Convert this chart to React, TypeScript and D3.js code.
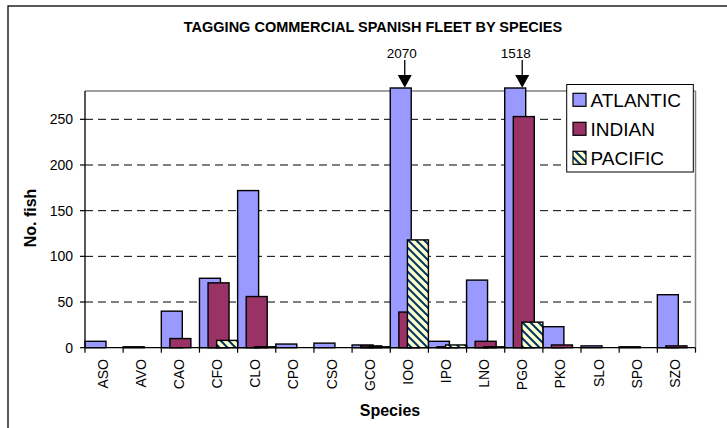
import React from "react";
import * as d3 from "d3";

const categories = ["ASO","AVO","CAO","CFO","CLO","CPO","CSO","GCO","IOO","IPO","LNO","PGO","PKO","SLO","SPO","SZO"];
const atlantic = [7, 1, 40, 76, 172, 4, 5, 3, 2070, 7, 74, 1518, 23, 2, 1, 58];
const indian   = [0, 0, 10, 71, 56, 0, 0, 2, 39, 1, 7, 253, 3, 0, 0, 2];
const pacific  = [0, 0, 0, 8, 1, 0, 0, 1, 118, 3, 1, 28, 0, 0, 0, 0];
const seriesNames = ["ATLANTIC", "INDIAN", "PACIFIC"];
const yTicks = [0, 50, 100, 150, 200, 250];
const yMax = 281;

const W = 727, H = 428;
const plot = { left: 85, right: 695.5, top: 91, bottom: 347.7 };
const FONT = "Arial, 'Liberation Sans', Helvetica, sans-serif";

export default function App() {
  const x = d3.scaleBand<string>().domain(categories).range([plot.left, plot.right]).padding(0);
  const y = d3.scaleLinear().domain([0, yMax]).range([plot.bottom, plot.top]);
  const bw = x.bandwidth();
  const barW = bw * 0.55;
  const step = (bw - barW) / 2;
  const series = [atlantic, indian, pacific];
  const fills = ["#9999FF", "#993366", "url(#pacPat)"];

  const bars: React.ReactNode[] = [];
  const callouts: React.ReactNode[] = [];
  series.forEach((vals, si) => {
    vals.forEach((v, ci) => {
      if (v <= 0) return;
      const x0 = (x(categories[ci]) as number) + si * step;
      const over = v > yMax;
      const top = over ? plot.top - 3 : y(v);
      bars.push(
        <rect key={`b${si}-${ci}`} x={x0} y={top} width={barW} height={plot.bottom - top}
          fill={fills[si]} stroke="#000" strokeWidth={1.4} />
      );
      if (over) {
        const ax = x0 + barW / 2 + (ci === 8 ? 4 : 7);
        const tx = x0 + barW / 2 + (ci === 8 ? 1 : 0.5);
        callouts.push(
          <g key={`c${ci}`}>
            <text x={tx} y={58} textAnchor="middle" fontSize={13.5} fontFamily={FONT} fill="#000">{v}</text>
            <line x1={ax} x2={ax} y1={60} y2={75} stroke="#000" strokeWidth={1.3} />
            <path d={`M${ax - 7},75 L${ax + 7},75 L${ax},87.7 Z`} fill="#000" />
          </g>
        );
      }
    });
  });

  const legendX = 566.7, legendY = 84.5;
  return (
    <svg width={W} height={H} style={{ position: "absolute", left: 0, top: 0, background: "#fff" }}>
      <defs>
        <pattern id="pacPat" patternUnits="userSpaceOnUse" width={8} height={8}>
          <rect width={8} height={8} fill="#FFFFCC" />
          <path d="M0,0 L8,8 M-2,6 L2,10 M6,-2 L10,2" stroke="#003366" strokeWidth={2} />
        </pattern>
      </defs>
      <rect x={0} y={0} width={W} height={H} fill="#fff" />
      {/* outer chart border */}
      <rect x={8} y={6} width={800} height={600} fill="none" stroke="#000" strokeWidth={1.3} />
      <text x={373} y={32} textAnchor="middle" fontSize={14.5} fontWeight="bold" fontFamily={FONT}>
        TAGGING COMMERCIAL SPANISH FLEET BY SPECIES
      </text>
      {/* plot border top/right */}
      <line x1={plot.left} x2={plot.right} y1={plot.top} y2={plot.top} stroke="#808080" strokeWidth={1.3} />
      <line x1={plot.right} x2={plot.right} y1={plot.top} y2={plot.bottom} stroke="#808080" strokeWidth={1.5} />
      {/* gridlines */}
      {yTicks.filter(t => t > 0).map(t => (
        <line key={`g${t}`} x1={plot.left} x2={plot.right} y1={y(t)} y2={y(t)}
          stroke="#000" strokeWidth={1} strokeDasharray="8,5" />
      ))}
      {bars}
      {/* axes */}
      <line x1={plot.left} x2={plot.left} y1={plot.top} y2={plot.bottom} stroke="#000" strokeWidth={1.3} />
      <line x1={plot.left} x2={plot.right} y1={plot.bottom} y2={plot.bottom} stroke="#000" strokeWidth={1.3} />
      {yTicks.map(t => (
        <g key={`yt${t}`}>
          <line x1={80} x2={plot.left} y1={y(t)} y2={y(t)} stroke="#000" strokeWidth={1.2} />
          <text x={73} y={y(t) + 5} textAnchor="end" fontSize={14} fontFamily={FONT}>{t}</text>
        </g>
      ))}
      {categories.concat(["__end"]).map((c, i) => {
        const xx = plot.left + i * bw;
        return <line key={`xt${i}`} x1={xx} x2={xx} y1={plot.bottom} y2={plot.bottom + 5} stroke="#000" strokeWidth={1.2} />;
      })}
      {categories.map(c => {
        const cx = (x(c) as number) + bw / 2 + 3.5;
        return (
          <text key={`xl${c}`} transform={`translate(${cx},359) rotate(-90)`} textAnchor="end"
            fontSize={14} fontFamily={FONT}>{c}</text>
        );
      })}
      <text x={390} y={416} textAnchor="middle" fontSize={16} fontWeight="bold" fontFamily={FONT}>Species</text>
      <text transform={`translate(36,218) rotate(-90)`} textAnchor="middle" fontSize={16} fontWeight="bold" fontFamily={FONT}>No. fish</text>
      {callouts}
      {/* legend */}
      <rect x={legendX} y={legendY} width={126.6} height={87.5} fill="#fff" stroke="#000" strokeWidth={1} />
      {seriesNames.map((s, i) => (
        <g key={`lg${s}`}>
          <rect x={573} y={93.3 + i * 29} width={13} height={13} fill={fills[i]} stroke="#000" strokeWidth={1.2} />
          <text x={590.5} y={106.7 + i * 29} fontSize={19} fontFamily={FONT}>{s}</text>
        </g>
      ))}
    </svg>
  );
}
